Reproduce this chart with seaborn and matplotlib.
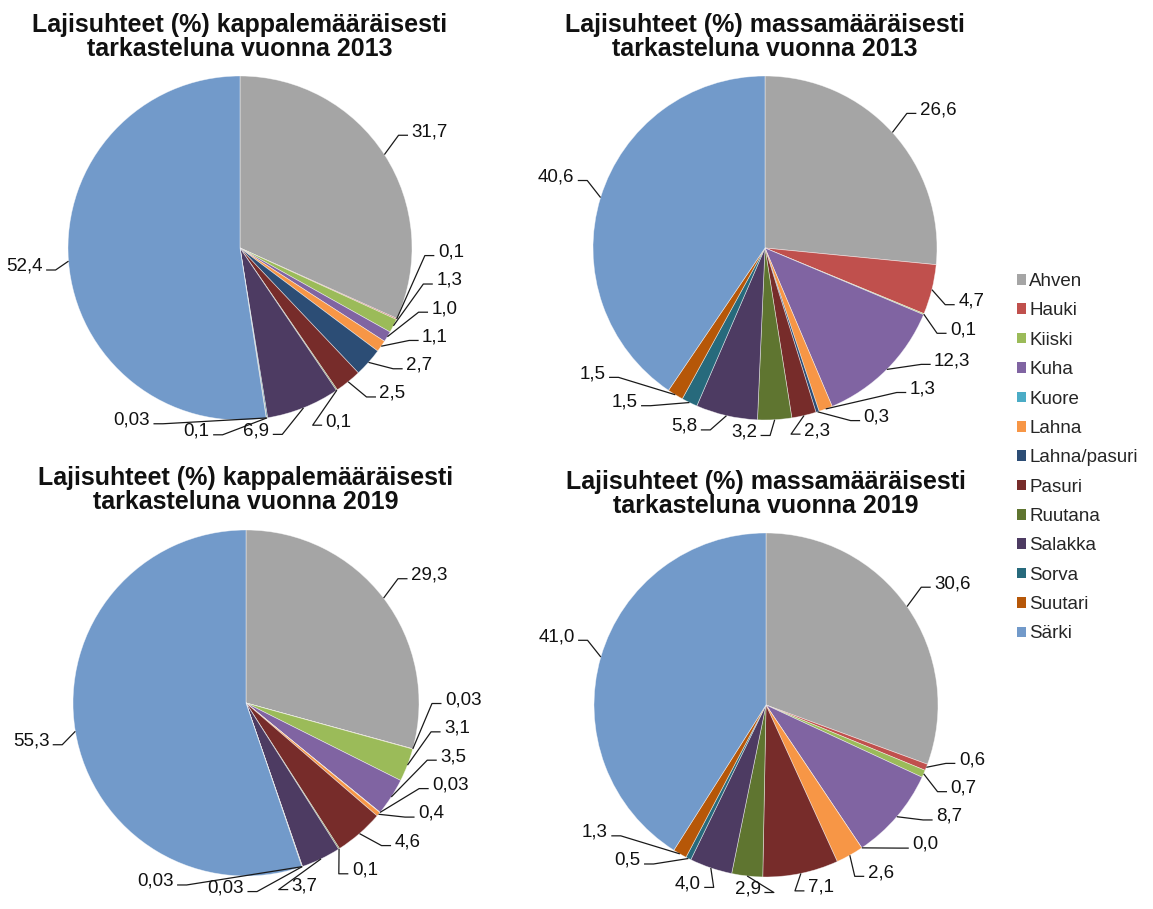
import numpy as np
import matplotlib
matplotlib.use("Agg")
import matplotlib.pyplot as plt
import seaborn as sns
from matplotlib.patches import Patch

# Species (legend order) and their slice colours
species = ["Ahven", "Hauki", "Kiiski", "Kuha", "Kuore", "Lahna", "Lahna/pasuri",
           "Pasuri", "Ruutana", "Salakka", "Sorva", "Suutari", "Särki"]
species_colors = ["#A5A5A5", "#C0504D", "#9BBB59", "#8064A2", "#4BACC6", "#F79646",
                  "#2C4D75", "#772C2A", "#5F7530", "#4D3B62", "#276A7C", "#B65708",
                  "#729ACA"]

# Shares (%) per species; None = species not caught in that survey
count_2013 = [31.7, 0.1, 1.3, 1.0, None, 1.1, 2.7, 2.5, 0.1, 6.9, 0.1, 0.03, 52.4]
mass_2013 = [26.6, 4.7, 0.1, 12.3, None, 1.3, 0.3, 2.3, 3.2, 5.8, 1.5, 1.5, 40.6]
count_2019 = [29.3, 0.03, 3.1, 3.5, 0.03, 0.4, None, 4.6, 0.1, 3.7, 0.03, 0.03, 55.3]
mass_2019 = [30.6, 0.6, 0.7, 8.7, 0.0, 2.6, None, 7.1, 2.9, 4.0, 0.5, 1.3, 41.0]

titles = [
    "Lajisuhteet (%) kappalemääräisesti\ntarkasteluna vuonna 2013",
    "Lajisuhteet (%) massamääräisesti\ntarkasteluna vuonna 2013",
    "Lajisuhteet (%) kappalemääräisesti\ntarkasteluna vuonna 2019",
    "Lajisuhteet (%) massamääräisesti\ntarkasteluna vuonna 2019",
]

sns.set_theme(style="white")
plt.rcParams["font.family"] = ["Liberation Sans", "DejaVu Sans"]
palette = sns.color_palette(species_colors)

W, H = 1153, 909
fig = plt.figure(figsize=(W / 100, H / 100), dpi=100)
fig.patch.set_facecolor("white")

LIM = 1.6
LABEL_PT = 13.5
TITLE_PT = 18
SIDE_EPS = 0.12                    # labels right under the centre go to the left
RX, RY, SHAPE = 1.13, 1.09, 2.4    # rounded label path around the pie (radius 1)
TAIL, GAP = 0.055, 0.02            # horizontal leader tail and text gap
BOX_UP, BOX_DOWN, PAD_X = 0.126, 0.037, 0.12


def fmt(v):
    s = f"{v:.2f}" if 0 < v < 0.05 else f"{v:.1f}"
    return s.replace(".", ",")


def make_axes(cx, cy, r):
    """Square axes in figure pixels, centred on (cx, cy) with pie radius r."""
    half = LIM * r
    return fig.add_axes([(cx - half) / W, 1 - (cy + half) / H, 2 * half / W, 2 * half / H])


def on_right(angle_deg):
    return np.sin(np.radians(angle_deg)) > SIDE_EPS


def label_point(angle_deg):
    a = np.radians(angle_deg)
    s, c = np.sin(a), np.cos(a)
    e = 2.0 / SHAPE
    return RX * np.sign(s) * abs(s) ** e, RY * np.sign(c) * abs(c) ** e


def label_box(angle_deg, width):
    tx, ty = label_point(angle_deg)
    if on_right(angle_deg):
        x0, x1 = tx - TAIL, tx + GAP + width
    else:
        x0, x1 = tx - GAP - width, tx + TAIL
    return x0, x1, ty - BOX_DOWN, ty + BOX_UP


def overlaps(b1, b2):
    return (b1[0] < b2[1] + PAD_X and b2[0] < b1[1] + PAD_X and
            b1[2] < b2[3] and b2[2] < b1[3])


def spread(mids, widths, step=0.12):
    """Nudge neighbouring labels apart until their boxes stop overlapping."""
    phi = np.array(mids, float)
    n = len(phi)
    for _ in range(4000):
        moved = False
        for i in range(n - 1):
            j = i + 1
            if overlaps(label_box(phi[i], widths[i]), label_box(phi[j], widths[j])):
                phi[i] -= step
                phi[j] += step
                moved = True
        if not moved:
            break
    return phi


def draw_pie(ax, values, title, r_px):
    idx = [i for i, v in enumerate(values) if v is not None]
    vals = np.array([values[i] for i in idx], float)
    cols = [palette[i] for i in idx]
    ax.pie(vals, colors=cols, startangle=90, counterclock=False, radius=1.0,
           wedgeprops=dict(edgecolor=(1, 1, 1, 0.55), linewidth=0.5))
    ax.set_xlim(-LIM, LIM)
    ax.set_ylim(-LIM, LIM)
    ax.set_aspect("equal")
    ax.set_axis_off()

    total = vals.sum()
    mids = (np.cumsum(vals) - vals / 2) / total * 360.0
    labels = [fmt(v) for v in vals]

    em = LABEL_PT * 100 / 72 / r_px
    widths = np.array([sum(0.278 if ch == "," else 0.556 for ch in lab) * em for lab in labels])
    phi = spread(mids, widths)

    for th, ph, lab in zip(mids, phi, labels):
        t = np.radians(th)
        p0 = np.array([np.sin(t), np.cos(t)])
        tx, ty = label_point(ph)
        side = 1 if on_right(ph) else -1
        kx = tx - side * TAIL
        ax.plot([p0[0], kx, tx], [p0[1], ty, ty], color="#1a1a1a", lw=0.9,
                solid_capstyle="butt", clip_on=False)
        ax.text(tx + side * GAP, ty - 0.005, lab, ha="left" if side > 0 else "right",
                va="baseline", fontsize=LABEL_PT, color="#111111", clip_on=False)

    ax.text(0, 1.09, title, ha="center", va="bottom", fontsize=TITLE_PT,
            fontweight="bold", color="#111111", linespacing=1.0, clip_on=False)


pies = [
    (240, 248, 172, count_2013, titles[0]),
    (765, 248, 172, mass_2013, titles[1]),
    (246, 703, 173, count_2019, titles[2]),
    (766, 705, 172, mass_2019, titles[3]),
]
for cx, cy, r, vals, title in pies:
    ax = make_axes(cx, cy, r)
    draw_pie(ax, vals, title, r)

handles = [Patch(facecolor=c, edgecolor="none") for c in palette]
fig.legend(handles, species, loc="upper left",
           bbox_to_anchor=(1017 / W, 1 - 273 / H), frameon=False,
           fontsize=LABEL_PT, handlelength=0.5, handleheight=0.5,
           handletextpad=0.15, labelspacing=0.66, borderaxespad=0, borderpad=0)

fig.savefig("out.png", dpi=100, facecolor="white")
